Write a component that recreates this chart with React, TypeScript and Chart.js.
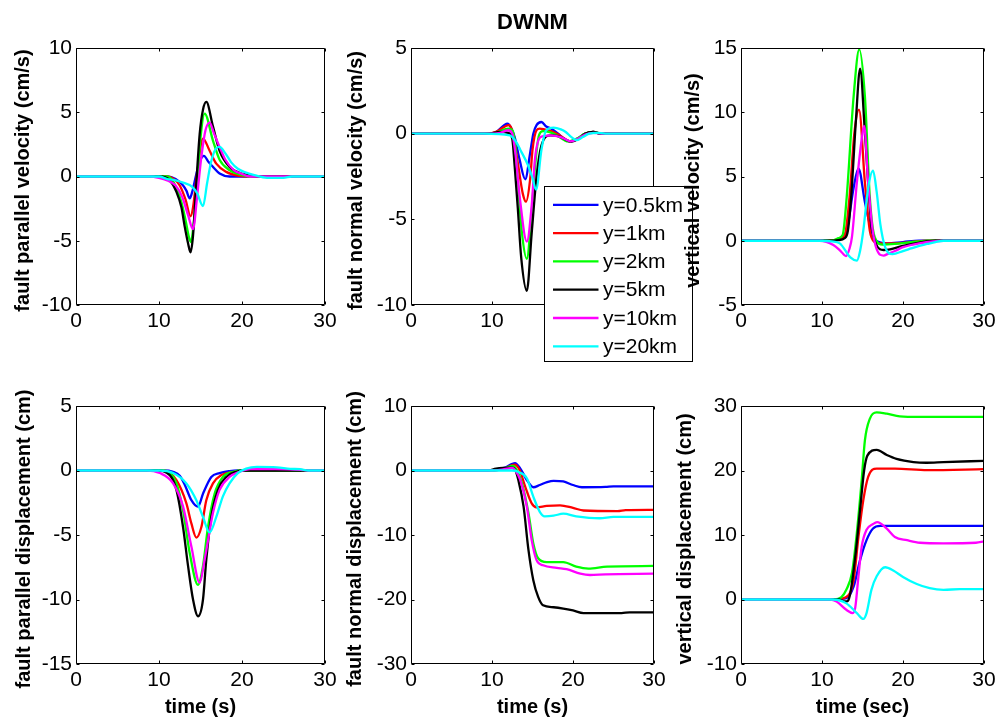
import React, { useEffect, useRef } from 'react';
import { Chart, registerables } from 'chart.js';
Chart.register(...registerables);

type Pt = [number, number];

const seriesLabels = ['y=0.5km', 'y=1km', 'y=2km', 'y=5km', 'y=10km', 'y=20km'];
const seriesColors = ['#0000FF', '#FF0000', '#00FF00', '#000000', '#FF00FF', '#00FFFF'];
const timeTicks = [0, 10, 20, 30];

const fpVelTicks = [-10, -5, 0, 5, 10];
const fnVelTicks = [-10, -5, 0, 5];
const vVelTicks = [-5, 0, 5, 10, 15];
const fpDispTicks = [-15, -10, -5, 0, 5];
const fnDispTicks = [-30, -20, -10, 0, 10];
const vDispTicks = [-10, 0, 10, 20, 30];

// fault parallel velocity (cm/s): [time s, value]
const faultParallelVelocity: Pt[][] = [
  [[0,0],[11,0],[12,-0.2],[12.9,-0.7],[13.3,-1.1],[13.7,-1.7],[14.0,-1.2],[14.5,0.2],[15.0,1.3],[15.4,1.6],[16.0,1.1],[16.5,0.75],[17.3,0.23],[18.5,0],[30,0]],
  [[0,0],[11,0],[11.8,-0.2],[12.5,-0.7],[13.2,-1.8],[13.8,-3.1],[14.1,-2.4],[14.6,0.3],[15.3,2.95],[16.1,2.0],[16.9,1.0],[18.1,0.36],[19.7,0.05],[21,0],[30,0]],
  [[0,0],[11,0],[11.5,-0.2],[12.1,-0.9],[12.7,-2.0],[13.2,-3.4],[13.6,-4.7],[13.85,-5.1],[14.2,-3.5],[14.6,-0.5],[15.0,3.0],[15.5,4.9],[16.5,2.8],[17.3,1.3],[18.5,0.5],[20,0.1],[21,0],[30,0]],
  [[0,0],[10,0],[11.3,-0.3],[12.1,-1.2],[12.7,-2.4],[13.1,-3.9],[13.5,-5.2],[13.8,-5.9],[14.1,-4.6],[14.5,-0.5],[14.9,3.3],[15.3,5.2],[15.7,5.8],[16.5,3.9],[17.3,2.0],[18.5,0.75],[20.1,0.2],[22,0],[30,0]],
  [[0,0],[8.8,0],[10,-0.1],[11,-0.3],[12,-0.7],[12.8,-1.6],[13.5,-3.0],[14.1,-4.1],[14.6,-1.5],[15.1,1.5],[15.6,3.6],[16.1,4.2],[16.6,3.4],[17.3,2.3],[18,1.3],[19,0.5],[20,0.2],[21,0],[30,0]],
  [[0,0],[10,0],[11,-0.2],[12,-0.3],[13,-0.5],[14,-0.8],[14.6,-1.3],[15.3,-2.3],[15.8,-0.5],[16.3,1.2],[16.9,2.2],[17.3,2.3],[18,1.8],[18.7,1.1],[19.5,0.6],[20.5,0.3],[21.5,0.1],[23,-0.1],[25,-0.1],[26,0],[30,0]],
];

// fault normal velocity (cm/s)
const faultNormalVelocity: Pt[][] = [
  [[0,0],[9.5,0],[10.5,0.1],[11.9,0.58],[12.4,0.3],[12.8,-0.2],[13.4,-1.5],[14.1,-2.66],[14.7,-1.15],[15.1,0],[15.5,0.5],[16.1,0.68],[16.7,0.42],[17.3,0.3],[18,0.05],[19.6,-0.45],[20.5,-0.3],[21.5,0],[22.5,0.1],[23.5,0],[30,0]],
  [[0,0],[9.5,0],[10.5,0.1],[12.1,0.5],[12.6,0],[13.25,-1.9],[13.8,-3.5],[14.2,-3.97],[14.7,-2.7],[15.0,-0.95],[15.5,0.2],[15.9,0.3],[16.5,0.25],[17.3,0.15],[18.2,-0.05],[19.7,-0.45],[20.6,-0.3],[21.5,0],[22.5,0.1],[23.5,0],[30,0]],
  [[0,0],[9.5,0],[10.5,0.05],[12.0,0.3],[12.5,0.2],[12.85,-0.6],[13.2,-2.8],[13.7,-5.8],[14.3,-7.3],[14.8,-5.2],[15.3,-2.0],[15.8,-0.1],[16.3,0.15],[17,0.1],[18,-0.1],[19.4,-0.45],[20.4,-0.3],[21.5,0],[22.5,0.1],[23.5,0],[30,0]],
  [[0,0],[9.5,0],[11,0.1],[12.0,0.05],[12.5,-0.3],[12.8,-1.9],[13.2,-4.45],[13.6,-7.2],[14.3,-9.17],[14.9,-5.8],[15.5,-2.5],[16.1,-0.7],[17.2,-0.1],[18.2,-0.15],[19.8,-0.47],[20.7,-0.3],[21.5,0],[22.5,0.1],[23.5,0],[30,0]],
  [[0,0],[9.5,0],[11,0.05],[12.0,0.2],[12.5,0],[12.9,-1.2],[13.4,-3.6],[14.3,-6.3],[14.9,-4.2],[15.3,-1.5],[16.0,-0.2],[17.2,-0.1],[18.5,-0.2],[19.7,-0.45],[20.6,-0.3],[21.5,-0.05],[22.5,0.05],[23.5,0],[30,0]],
  [[0,0],[9,0],[12.2,-0.1],[13.0,-0.5],[13.5,-0.95],[14.5,-1.9],[15.0,-2.6],[15.45,-3.27],[16.1,-0.95],[16.7,0.2],[17.6,0.35],[18.5,0.25],[19.1,0.1],[19.8,-0.2],[20.5,-0.38],[21.2,-0.2],[22,0],[23,0.05],[24,0],[30,0]],
];

// vertical velocity (cm/s)
const verticalVelocity: Pt[][] = [
  [[0,0],[11,0],[12,0.1],[13.05,0.8],[13.9,4.1],[14.5,5.64],[15.3,3.0],[16.1,0.8],[16.7,0],[18,-0.2],[20,-0.1],[22,0],[30,0]],
  [[0,0],[11,0],[12,0.1],[12.8,0.4],[13.4,3.4],[14.0,8.4],[14.57,10.2],[15.3,4.5],[15.9,0.8],[16.5,-0.1],[17.1,-0.2],[19,-0.2],[21,-0.1],[23,0],[30,0]],
  [[0,0],[10.5,0],[11.5,0.05],[12.0,0.2],[12.55,0.44],[13.05,3.4],[13.9,11.2],[14.6,14.9],[15.3,11.2],[15.9,3.4],[16.5,0.3],[17.5,-0.3],[19,-0.25],[20.5,-0.15],[22,-0.05],[23,0],[30,0]],
  [[0,0],[11,0],[12,0.05],[12.8,0.2],[13.2,0.8],[13.6,3.4],[14.2,9.5],[14.7,13.4],[15.3,8.4],[16.05,1.5],[16.7,-0.3],[17.6,-0.72],[18.4,-0.67],[20,-0.4],[22,-0.15],[24,0],[30,0]],
  [[0,0],[9.75,0],[11.4,-0.33],[12.3,-0.8],[12.96,-1.19],[13.4,-0.6],[13.7,0.3],[14.3,4.5],[14.9,7.9],[15.2,8.93],[15.7,4.5],[16.3,0.6],[17.2,-1.1],[17.6,-1.15],[18.2,-1.0],[19,-0.8],[20,-0.5],[22,-0.2],[25,0],[30,0]],
  [[0,0],[10,0],[11.2,-0.05],[12.2,-0.2],[13.5,-1.3],[14.3,-1.55],[14.7,-0.8],[15.1,0.8],[15.7,4.1],[16.3,5.45],[16.75,3.8],[17.2,1.3],[17.8,-0.5],[18.7,-1.04],[20,-0.8],[21,-0.6],[22,-0.4],[23,-0.25],[24,-0.1],[25,0],[30,0]],
];

// fault parallel displacement (cm)
const faultParallelDisplacement: Pt[][] = [
  [[0,0],[10.5,0],[11.7,-0.1],[12.5,-0.4],[13.1,-1.1],[13.9,-2.3],[14.7,-2.8],[15.3,-1.8],[16.3,-0.5],[17.3,-0.2],[18.5,-0.05],[19.5,0],[30,0]],
  [[0,0],[10.5,0],[12.1,-0.75],[13.3,-2.55],[13.9,-4.1],[14.5,-5.2],[15.1,-4.4],[15.7,-2.3],[16.5,-1.0],[17.5,-0.36],[19,-0.1],[20,0],[30,0]],
  [[0,0],[10.5,0],[12.1,-1.0],[12.9,-3.1],[13.7,-6.4],[14.7,-8.87],[15.3,-7.4],[15.9,-4.4],[16.7,-1.8],[17.7,-0.5],[19,-0.1],[20,0],[30,0]],
  [[0,0],[9.7,0],[11.3,-0.36],[12.1,-1.5],[12.9,-4.4],[13.5,-7.4],[14.1,-10.0],[14.7,-11.3],[15.3,-10.0],[15.7,-6.9],[16.3,-3.6],[17.1,-1.5],[18.1,-0.5],[19.3,-0.1],[20.5,0],[30,0]],
  [[0,0],[8.5,0],[10.1,-0.2],[11.7,-1.0],[12.9,-2.8],[13.9,-5.9],[14.9,-8.7],[15.5,-6.9],[16.5,-3.3],[17.3,-1.5],[18.5,-0.5],[19.7,-0.1],[21,0.1],[24,0.1],[27,0.05],[28,0],[30,0]],
  [[0,0],[10,0],[11.7,-0.2],[13.3,-1.0],[14.5,-2.3],[15.3,-3.6],[16.1,-4.8],[16.9,-3.6],[17.7,-2.0],[18.5,-1.0],[19.5,-0.2],[20.5,0.15],[21.8,0.28],[24.2,0.25],[25.8,0.13],[27,0.1],[28,0],[30,0]],
];

// fault normal displacement (cm)
const faultNormalDisplacement: Pt[][] = [
  [[0,0],[9.75,0],[11.5,0.4],[12.84,1.15],[13.5,0.3],[14.3,-1.47],[15.1,-2.6],[15.9,-2.25],[16.8,-1.8],[17.6,-1.6],[18.8,-1.7],[20.0,-2.25],[21.1,-2.6],[24,-2.55],[25,-2.45],[30,-2.45]],
  [[0,0],[9.75,0],[11.5,0.3],[12.8,0.9],[13.4,0.1],[14.1,-2.5],[14.9,-5.1],[15.5,-5.7],[16.75,-5.5],[18.4,-5.4],[20,-5.8],[21.3,-6.2],[25.5,-6.3],[26.5,-6.15],[30,-6.1]],
  [[0,0],[10,0],[11.5,0.3],[12.6,0.7],[13.1,0],[13.7,-2.0],[14.5,-6.6],[15.1,-11.3],[15.7,-13.6],[16.75,-14.2],[18.8,-14.2],[20.4,-14.9],[21.9,-15.2],[24.2,-14.9],[30,-14.8]],
  [[0,0],[9.5,0],[10.5,0.3],[12.5,0.43],[12.9,0],[13.25,-1.47],[13.9,-5.6],[14.5,-12.3],[15.1,-17.0],[15.7,-19.6],[16.3,-20.9],[17.6,-21.2],[18.8,-21.4],[20,-21.7],[21.3,-22.1],[26,-22.1],[27,-22.0],[30,-22.0]],
  [[0,0],[10,0],[11.5,0.2],[12.5,0.4],[13.0,-0.2],[13.5,-1.5],[14.3,-5.6],[14.9,-10.8],[15.5,-13.9],[16.3,-14.7],[18.0,-15.1],[19.2,-15.3],[20.9,-16.0],[22.1,-16.2],[24,-16.1],[30,-16.0]],
  [[0,0],[12.5,0],[13.2,-0.2],[14.3,-1.2],[15.1,-4.06],[15.9,-6.4],[16.5,-7.1],[17.6,-7.0],[18.8,-6.7],[20.4,-7.1],[23.3,-7.4],[25,-7.2],[30,-7.2]],
];

// vertical displacement (cm)
const verticalDisplacement: Pt[][] = [
  [[0,0],[11.5,0],[13.0,0.2],[13.9,2.0],[14.7,6.1],[15.5,9.2],[16.3,11.0],[17.2,11.4],[30,11.4]],
  [[0,0],[11.5,0],[13.0,0.4],[13.9,3.0],[14.5,9.7],[15.1,15.4],[15.7,19.0],[16.75,20.3],[19,20.3],[23,20.05],[30,20.2]],
  [[0,0],[11.5,0],[12.4,0.36],[13.0,1.5],[13.7,4.1],[14.3,10.3],[14.9,18.5],[15.3,24.7],[15.9,28.0],[16.75,29.0],[18.0,28.8],[19.6,28.4],[22,28.3],[30,28.3]],
  [[0,0],[12,0],[12.9,-0.3],[13.2,-0.2],[13.5,1.0],[14.1,6.6],[14.7,13.9],[15.2,20],[15.6,22.3],[16.75,23.2],[18.0,22.4],[19.2,21.8],[21.3,21.3],[22.9,21.2],[25,21.3],[30,21.5]],
  [[0,0],[11,0],[11.8,-0.3],[13.0,-1.6],[13.8,-2.1],[14.1,-1.3],[14.5,3.6],[14.9,8.2],[15.5,10.8],[16.3,11.7],[16.8,12.0],[18.0,11.0],[19.0,9.7],[20.5,9.2],[22.1,8.8],[25,8.7],[29,8.8],[30,9.0]],
  [[0,0],[11.4,0],[13.0,-0.6],[14.3,-2.1],[15.1,-3.0],[15.5,-2.1],[16.1,1.5],[16.75,3.6],[17.8,5.0],[18.8,4.5],[20.0,3.5],[21.7,2.4],[23.3,1.75],[25,1.5],[27,1.6],[30,1.6]],
];

const FONT = '"Liberation Sans", Arial, Helvetica, sans-serif';

interface PanelSpec {
  series: Pt[][];
  yTicks: number[];
  yTitle: string;
  xTitle?: string;
  left: number; top: number; width: number; height: number;
  pad: { top: number; right: number; bottom: number; left: number };
  xH: number;
  yTitleDist: number;
  title?: string;
  legend?: boolean;
}

const panels: PanelSpec[] = [
  { series: faultParallelVelocity, yTicks: fpVelTicks, yTitle: 'fault parallel velocity (cm/s)',
    left: 0, top: 30, width: 345, height: 315, pad: { top: 18, right: 20, bottom: 0, left: 0 }, xH: 40, yTitleDist: 53 },
  { series: faultNormalVelocity, yTicks: fnVelTicks, yTitle: 'fault normal velocity (cm/s)',
    left: 335, top: 0, width: 365, height: 370, pad: { top: 0, right: 46, bottom: 25, left: 0 }, xH: 40, yTitleDist: 55,
    title: 'DWNM', legend: true },
  { series: verticalVelocity, yTicks: vVelTicks, yTitle: 'vertical velocity (cm/s)',
    left: 665, top: 30, width: 338, height: 315, pad: { top: 18, right: 19, bottom: 0, left: 0 }, xH: 40, yTitleDist: 48 },
  { series: faultParallelDisplacement, yTicks: fpDispTicks, yTitle: 'fault parallel displacement (cm)', xTitle: 'time (s)',
    left: 0, top: 388, width: 345, height: 332, pad: { top: 18, right: 20, bottom: 0, left: 0 }, xH: 56, yTitleDist: 52 },
  { series: faultNormalDisplacement, yTicks: fnDispTicks, yTitle: 'fault normal displacement (cm)', xTitle: 'time (s)',
    left: 335, top: 388, width: 339, height: 332, pad: { top: 18, right: 20, bottom: 0, left: 0 }, xH: 56, yTitleDist: 56 },
  { series: verticalDisplacement, yTicks: vDispTicks, yTitle: 'vertical displacement (cm)', xTitle: 'time (sec)',
    left: 665, top: 388, width: 338, height: 332, pad: { top: 18, right: 19, bottom: 0, left: 0 }, xH: 56, yTitleDist: 56 },
];

function makeAxesPlugin(spec: PanelSpec) {
  return {
    id: 'matlabAxes',
    afterDatasetsDraw(chart: any) {
      const { ctx, chartArea: a, scales } = chart;
      ctx.save();
      ctx.strokeStyle = '#000';
      ctx.lineWidth = 1;
      const L = Math.round(a.left) + 0.5, R = Math.round(a.right) - 0.5;
      const T = Math.round(a.top) + 0.5, B = Math.round(a.bottom) - 0.5;
      ctx.beginPath();
      ctx.rect(L, T, R - L, B - T);
      const tl = 3;
      for (const v of timeTicks) {
        const x = Math.round(scales.x.getPixelForValue(v)) + 0.5;
        ctx.moveTo(x, B); ctx.lineTo(x, B - tl);
        ctx.moveTo(x, T); ctx.lineTo(x, T + tl);
      }
      for (const v of spec.yTicks) {
        const y = Math.round(scales.y.getPixelForValue(v)) + 0.5;
        ctx.moveTo(L, y); ctx.lineTo(L + tl, y);
        ctx.moveTo(R, y); ctx.lineTo(R - tl, y);
      }
      ctx.stroke();
      ctx.restore();
    },
    afterDraw(chart: any) {
      const { ctx, chartArea: a } = chart;
      ctx.save();
      ctx.translate(a.left - spec.yTitleDist, (a.top + a.bottom) / 2 + 4);
      ctx.rotate(-Math.PI / 2);
      ctx.font = `bold 20px ${FONT}`;
      ctx.fillStyle = '#000';
      ctx.textAlign = 'center';
      ctx.textBaseline = 'middle';
      ctx.fillText(spec.yTitle, 0, 0);
      ctx.restore();
      if (spec.legend) {
        const bx = Math.round(a.left) + 133 + 0.5;
        const by = Math.round(a.top) + 138 + 0.5;
        const bw = 148, bh = 175;
        ctx.save();
        ctx.fillStyle = '#fff';
        ctx.fillRect(bx, by, bw, bh);
        ctx.strokeStyle = '#000';
        ctx.lineWidth = 1;
        ctx.strokeRect(bx, by, bw, bh);
        ctx.font = `21px ${FONT}`;
        ctx.textAlign = 'left';
        ctx.textBaseline = 'middle';
        chart.data.datasets.forEach((ds: any, i: number) => {
          const yy = by + 18.3 + i * 28.3;
          ctx.strokeStyle = ds.borderColor;
          ctx.lineWidth = 2.3;
          ctx.beginPath();
          ctx.moveTo(bx + 8.5, yy);
          ctx.lineTo(bx + 54, yy);
          ctx.stroke();
          ctx.fillStyle = '#000';
          ctx.fillText(ds.label, bx + 58.5, yy + 1);
        });
        ctx.restore();
      }
    },
  };
}

function Panel({ spec }: { spec: PanelSpec }) {
  const ref = useRef<HTMLCanvasElement>(null);
  useEffect(() => {
    if (!ref.current) return;
    const yMin = Math.min(...spec.yTicks), yMax = Math.max(...spec.yTicks);
    const chart = new Chart(ref.current, {
      type: 'line',
      data: {
        datasets: spec.series.map((pts, i) => ({
          label: seriesLabels[i],
          data: pts.map(([x, y]) => ({ x, y })),
          borderColor: seriesColors[i],
          backgroundColor: seriesColors[i],
          borderWidth: 2.3,
          pointRadius: 0,
          fill: false,
          cubicInterpolationMode: 'monotone' as const,
          order: seriesLabels.length - i,
        })),
      },
      options: {
        responsive: false,
        animation: false,
        devicePixelRatio: 1,
        events: [],
        layout: { padding: spec.pad },
        plugins: {
          legend: { display: false },
          tooltip: { enabled: false },
          title: spec.title
            ? { display: true, text: spec.title, fullSize: false, color: '#000',
                font: { family: FONT, size: 22, weight: 'bold' }, padding: { top: 9.3, bottom: 12.3 } }
            : { display: false },
        },
        scales: {
          x: {
            type: 'linear',
            min: 0, max: 30,
            afterBuildTicks: (s: any) => { s.ticks = timeTicks.map((v) => ({ value: v })); },
            afterFit: (s: any) => { s.height = spec.xH; },
            grid: { display: false, drawTicks: false },
            border: { display: false },
            ticks: { color: '#000', padding: 4, maxRotation: 0, font: { family: FONT, size: 21 } },
            title: spec.xTitle
              ? { display: true, text: spec.xTitle, color: '#000', padding: { top: 0, bottom: 1 },
                  font: { family: FONT, size: 20, weight: 'bold' } }
              : { display: false },
          },
          y: {
            type: 'linear',
            min: yMin, max: yMax,
            afterBuildTicks: (s: any) => { s.ticks = spec.yTicks.map((v) => ({ value: v })); },
            afterFit: (s: any) => { s.width = 76; },
            grid: { display: false, drawTicks: false },
            border: { display: false },
            ticks: { color: '#000', padding: 4, font: { family: FONT, size: 21 } },
          },
        },
      },
      plugins: [makeAxesPlugin(spec)],
    } as any);
    return () => chart.destroy();
  }, [spec]);
  return (
    <canvas
      ref={ref}
      width={spec.width}
      height={spec.height}
      style={{ position: 'absolute', left: spec.left, top: spec.top, width: spec.width, height: spec.height }}
    />
  );
}

export default function App() {
  return (
    <div style={{ position: 'absolute', left: 0, top: 0, width: 1003, height: 720, background: '#fff', overflow: 'hidden' }}>
      {panels.map((p, i) => (
        <Panel key={i} spec={p} />
      ))}
    </div>
  );
}
